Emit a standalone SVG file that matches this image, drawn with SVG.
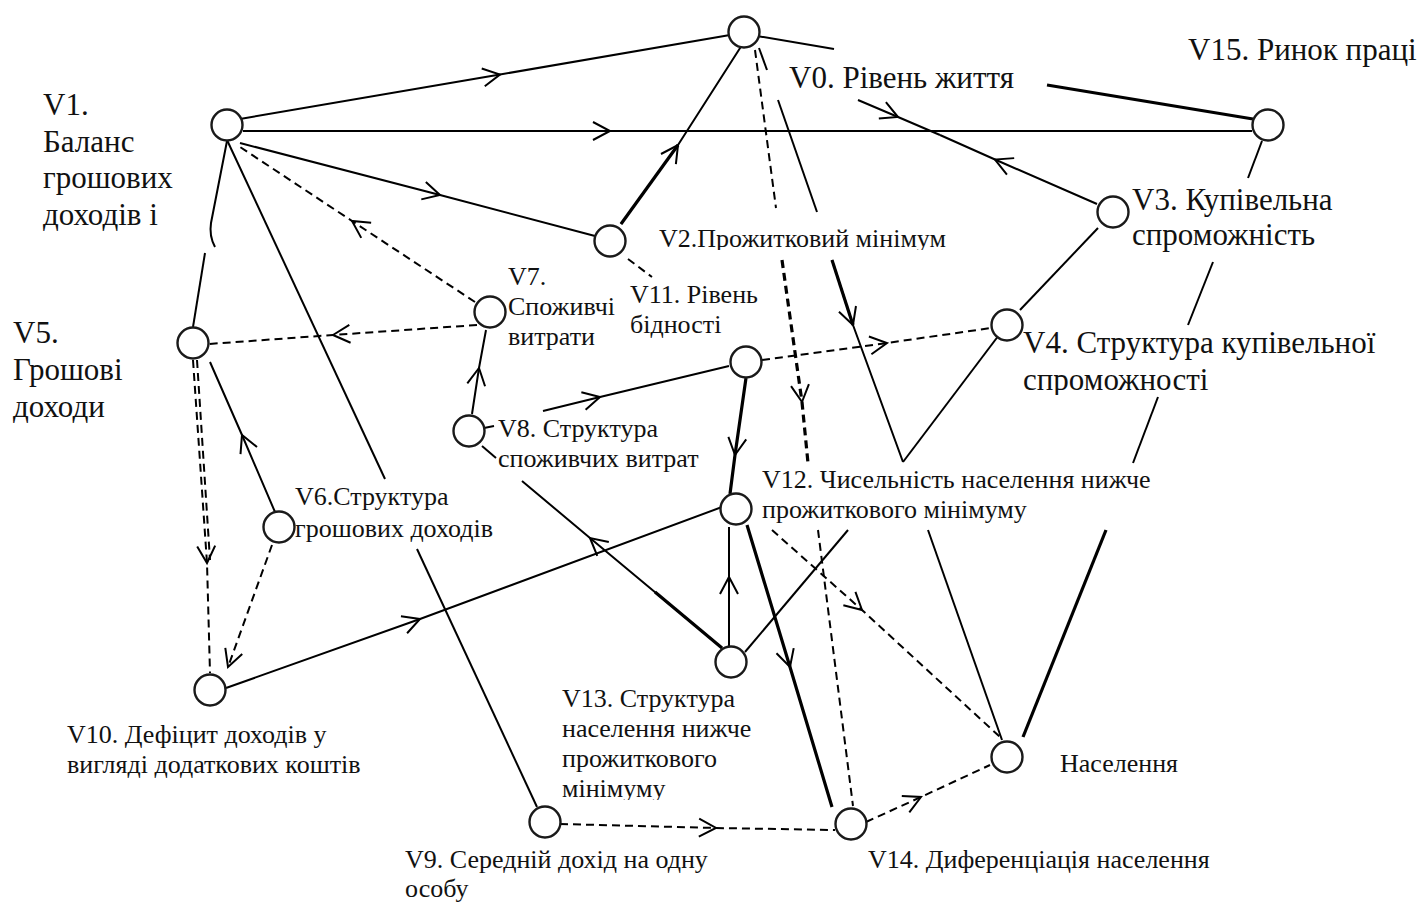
<svg xmlns="http://www.w3.org/2000/svg" width="1426" height="906" viewBox="0 0 1426 906">
<style>
.ln{fill:none;stroke:#000;stroke-width:2}
.th{stroke-width:3.2}
.ds{stroke-dasharray:8 5}
.mid{marker-mid:url(#ah)}
.end{marker-end:url(#ah)}
.node circle{fill:#fff;stroke:#1a1a1a;stroke-width:2.4}
text{font-family:"Liberation Serif","Times New Roman",serif;fill:#111}
.big{font-size:31px}
.sm{font-size:26px}
</style>
<defs>
<marker id="ah" viewBox="-20 -12 24 24" markerWidth="24" markerHeight="24" refX="0" refY="0" orient="auto" markerUnits="userSpaceOnUse">
<path d="M-17,-9 L0,0 L-17,9" fill="none" stroke="#000" stroke-width="2" stroke-dasharray="none"/>
</marker>
<clipPath id="clipV2"><rect x="640" y="200" width="340" height="50"/></clipPath>
<clipPath id="clipV4"><rect x="1010" y="320" width="416" height="75"/></clipPath>
<clipPath id="clipV13"><rect x="550" y="680" width="250" height="120"/></clipPath>
</defs>

<g id="connectors">
<path class="ln mid" d="M240,119 L500,74.5 L730,35"/>
<path class="ln mid" d="M243,131 L610,131 L1252,131"/>
<path class="ln mid" d="M240,143 L440,195 L595,236"/>
<path class="ln ds mid" d="M475,302 L352,221 L240,147"/>
<path class="ln" d="M227,141 L211,223 Q209,236 215,247"/>
<path class="ln" d="M205,253 L193,327"/>
<path class="ln" d="M227,140 L385,479"/>
<path class="ln" d="M417,549 L537,807"/>
<path class="ln ds mid" d="M477,325 L333,335 L209,344"/>
<path class="ln ds mid" d="M193,360 L207,563 L210,673"/>
<path class="ln ds" d="M197,360 L210,560"/>
<path class="ln mid" d="M275,512 L242,435 L210,362"/>
<path class="ln ds end" d="M272,545 L228,667"/>
<path class="ln mid" d="M226,688 L420,619 L722,507"/>
<path class="ln mid" d="M472,414 L479,368 L486,330"/>
<path class="ln" d="M484,428 L494,426"/>
<path class="ln mid" d="M543,411 L600,397 L729,366"/>
<path class="ln mid" d="M722,648 L590,538 L522,481"/>
<path class="ln" d="M496,458 L482,446"/>
<path class="ln th" d="M722,648 L655,592"/>
<path class="ln th mid" d="M746,378 L735,455 L730,494"/>
<path class="ln ds mid" d="M762,360 L887,343 L991,328"/>
<path class="ln ds mid" d="M772,530 L862,610 L1000,737"/>
<path class="ln th mid" d="M747,525 L790,667 L832,807"/>
<path class="ln mid" d="M729,647 L729,577 L729,527"/>
<path class="ln" d="M745,652 L848,530"/>
<path class="ln" d="M903,462 L1002,331"/>
<path class="ln" d="M759,48 L767,70"/>
<path class="ln" d="M778,100 L817,212"/>
<path class="ln th" d="M832,260 L853,325"/>
<path class="ln mid" d="M832,260 L853,325 L903,462"/>
<path class="ln" d="M928,530 L1002,740"/>
<path class="ln ds" d="M755,50 L776,208"/>
<path class="ln ds th mid" d="M782,260 L802,402 L808,463"/>
<path class="ln ds" d="M818,530 L853,806"/>
<path class="ln th" d="M621,224 L678,145"/>
<path class="ln mid" d="M621,224 L678,145 L742,45"/>
<path class="ln ds" d="M628,259 L652,277"/>
<path class="ln" d="M757,36 L834,49"/>
<path class="ln th" d="M1047,85 L1253,119"/>
<path class="ln mid" d="M858,100 L898,117 L940,135"/>
<path class="ln mid" d="M1097,204 L995,159.5 L940,135"/>
<path class="ln" d="M1262,141 L1248,178"/>
<path class="ln" d="M1213,262 L1188,325"/>
<path class="ln" d="M1158,397 L1133,463"/>
<path class="ln th" d="M1106,530 L1023,737"/>
<path class="ln" d="M1098,228 L1020,310"/>
<path class="ln ds mid" d="M866,822 L921,797 L990,765"/>
<path class="ln ds mid" d="M560,824 L716,828 L835,830"/>
</g>

<g id="v0" class="node"><circle cx="744" cy="32" r="15.5"/><text class="big" x="789" y="88">V0. Рівень життя</text></g>
<g id="v15" class="node"><circle cx="1268" cy="125" r="15.5"/><text class="big" x="1188" y="60">V15. Ринок праці</text></g>
<g id="v1" class="node"><circle cx="227" cy="125" r="15.5"/><text class="big" x="43"><tspan x="43" y="115">V1.</tspan><tspan x="43" y="152">Баланс</tspan><tspan x="43" y="188">грошових</tspan><tspan x="43" y="225">доходів і</tspan></text></g>
<g id="v3" class="node"><circle cx="1113" cy="212" r="15.5"/><text class="big"><tspan x="1132" y="210">V3. Купівельна</tspan><tspan x="1132" y="245">спроможність</tspan></text></g>
<g id="v2" class="node"><circle cx="610" cy="241" r="15.5"/><text class="sm" x="659" y="247" clip-path="url(#clipV2)">V2.Прожитковий мінімум</text></g>
<g id="v7" class="node"><circle cx="490" cy="312" r="15.5"/><text class="sm"><tspan x="508" y="285">V7.</tspan><tspan x="508" y="315">Споживчі</tspan><tspan x="508" y="345">витрати</tspan></text></g>
<g id="v11" class="node"><circle cx="746" cy="362" r="15.5"/><text class="sm"><tspan x="630" y="303">V11. Рівень</tspan><tspan x="630" y="333">бідності</tspan></text></g>
<g id="v5" class="node"><circle cx="193" cy="343" r="15.5"/><text class="big"><tspan x="13" y="343">V5.</tspan><tspan x="13" y="380">Грошові</tspan><tspan x="13" y="417">доходи</tspan></text></g>
<g id="v4" class="node"><circle cx="1007" cy="325" r="15.5"/><text class="big" clip-path="url(#clipV4)"><tspan x="1023" y="353">V4. Структура купівельної</tspan><tspan x="1023" y="390">спроможності</tspan></text></g>
<g id="v8" class="node"><circle cx="469" cy="431" r="15.5"/><text class="sm"><tspan x="498" y="437">V8. Структура</tspan><tspan x="498" y="467">споживчих витрат</tspan></text></g>
<g id="v12" class="node"><circle cx="736" cy="509" r="15.5"/><text class="sm"><tspan x="762" y="488">V12. Чисельність населення нижче</tspan><tspan x="762" y="518">прожиткового мінімуму</tspan></text></g>
<g id="v6" class="node"><circle cx="279" cy="527" r="15.5"/><text class="sm"><tspan x="295" y="505">V6.Структура</tspan><tspan x="295" y="537">грошових доходів</tspan></text></g>
<g id="v13" class="node"><circle cx="731" cy="662" r="15.5"/><text class="sm" clip-path="url(#clipV13)"><tspan x="562" y="707">V13. Структура</tspan><tspan x="562" y="737">населення нижче</tspan><tspan x="562" y="767">прожиткового</tspan><tspan x="562" y="797">мінімуму</tspan></text></g>
<g id="v10" class="node"><circle cx="210" cy="690" r="15.5"/><text class="sm"><tspan x="67" y="743">V10. Дефіцит доходів у</tspan><tspan x="67" y="773">вигляді додаткових коштів</tspan></text></g>
<g id="pop" class="node"><circle cx="1007" cy="757" r="15.5"/><text class="sm" x="1060" y="772">Населення</text></g>
<g id="v9" class="node"><circle cx="545" cy="822" r="15.5"/><text class="sm"><tspan x="405" y="868">V9. Середній дохід на одну</tspan><tspan x="405" y="897">особу</tspan></text></g>
<g id="v14" class="node"><circle cx="851" cy="824" r="15.5"/><text class="sm" x="868" y="868">V14. Диференціація населення</text></g>
</svg>
